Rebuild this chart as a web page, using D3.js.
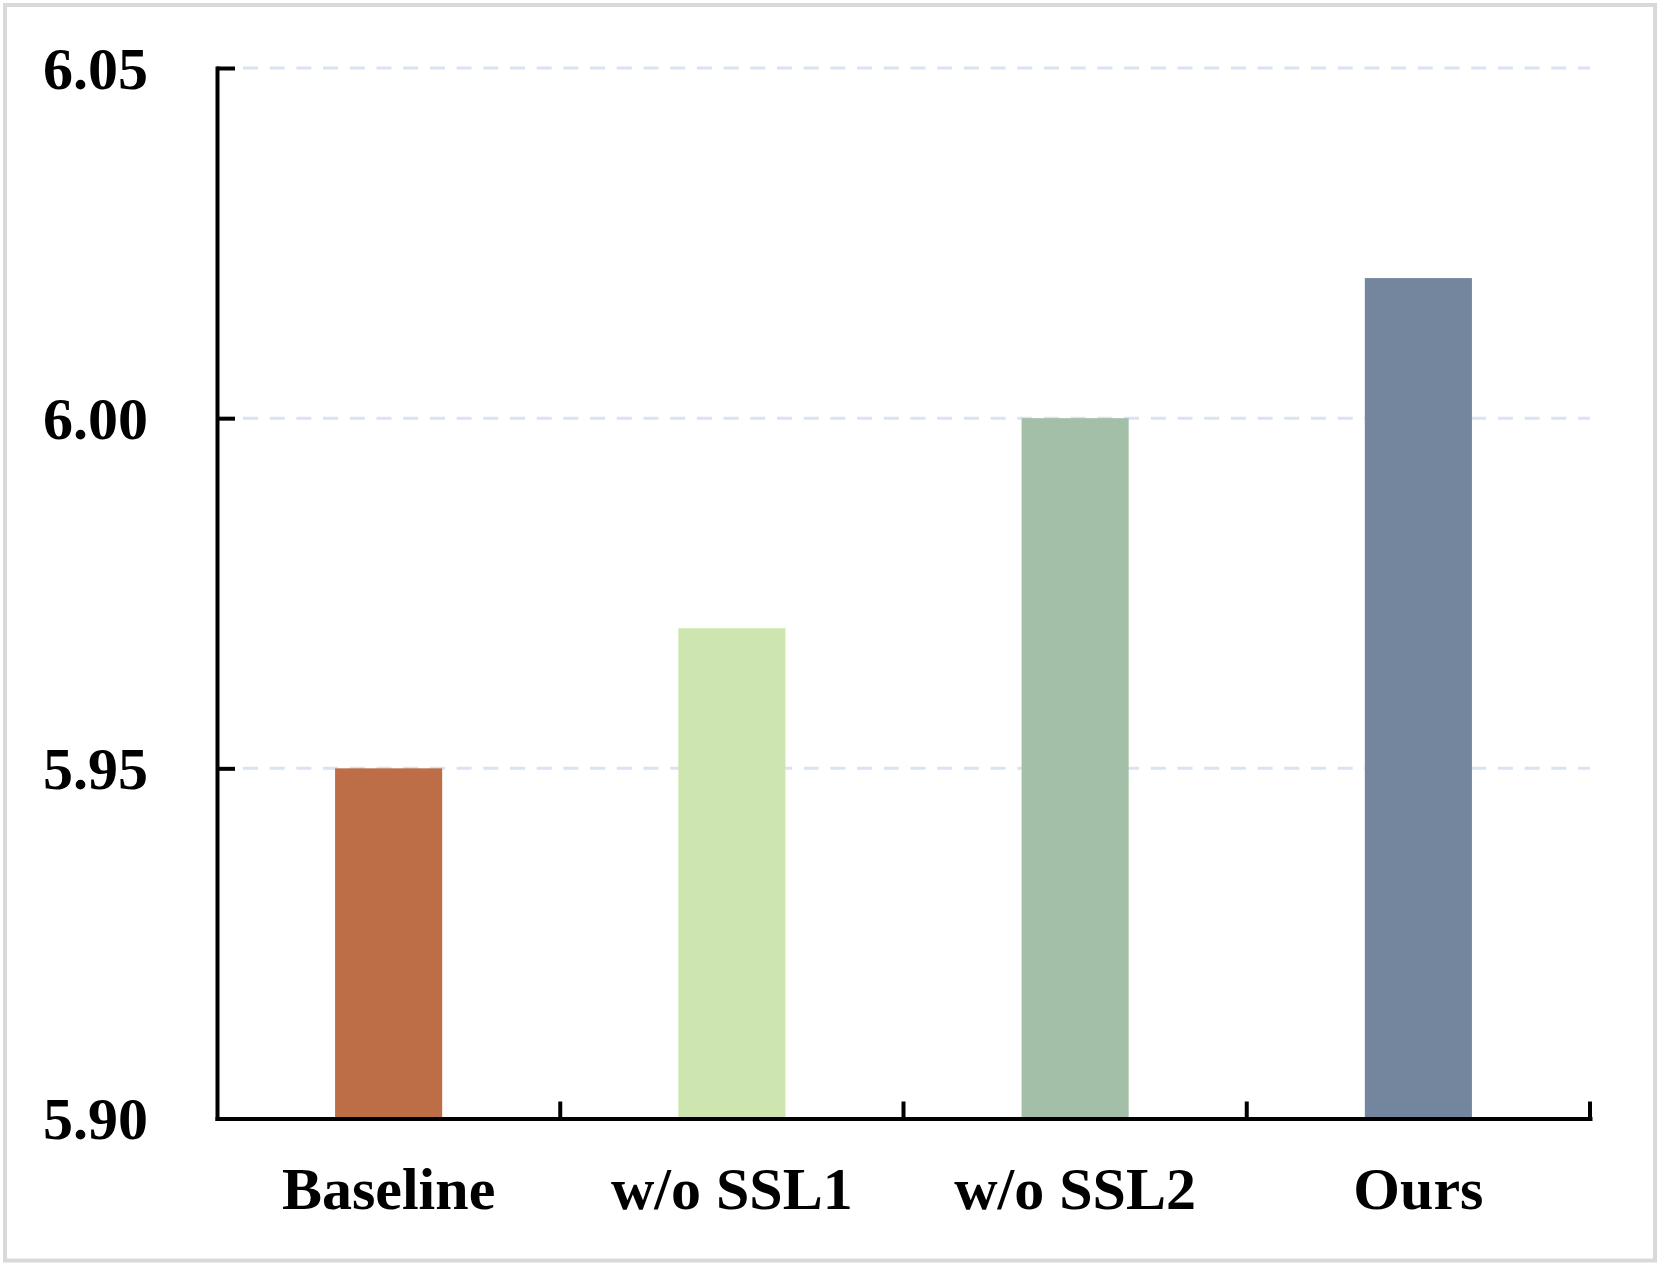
<!DOCTYPE html>
<html>
<head>
<meta charset="utf-8">
<script src="https://cdn.jsdelivr.net/npm/d3@7/dist/d3.min.js"></script>
<style>
  html, body { margin: 0; padding: 0; background: #fff; }
  svg { display: block; }
</style>
</head>
<body>
<svg id="chart" width="1660" height="1265"></svg>
<script>
const categories = ["Baseline", "w/o SSL1", "w/o SSL2", "Ours"];
const values = [5.95, 5.97, 6.00, 6.02];
const colors = ["#BD6E47", "#CDE6AF", "#A3BFA8", "#73869E"];
const yTicks = [5.90, 5.95, 6.00, 6.05];
const gridTicks = [5.95, 6.00, 6.05];

(function () {
const svg = d3.select("#chart");
const W = 1660, H = 1265;
const mLeft = 217, mRight = 1590, mTop = 68, mBottom = 1118.5;

svg.append("rect")
  .attr("x", 5).attr("y", 5)
  .attr("width", W - 10).attr("height", H - 9.5)
  .attr("fill", "#fff")
  .attr("stroke", "#d9d9d9").attr("stroke-width", 4);

const x = d3.scaleBand().domain(categories).range([mLeft, mRight]).padding(0);
const y = d3.scaleLinear().domain([5.90, 6.05]).range([mBottom, mTop]);
const barW = x.bandwidth() * 0.312;

// gridlines
svg.append("g").selectAll("line").data(gridTicks).join("line")
  .attr("x1", mLeft + 26).attr("x2", mRight)
  .attr("y1", d => y(d)).attr("y2", d => y(d))
  .attr("stroke", "#dae3f3").attr("stroke-width", 3)
  .attr("stroke-dasharray", "15,11.7");

// bars
svg.append("g").selectAll("rect").data(categories).join("rect")
  .attr("x", (d) => x(d) + x.bandwidth() / 2 - barW / 2)
  .attr("width", barW)
  .attr("y", (d, i) => y(values[i]))
  .attr("height", (d, i) => y(5.90) - y(values[i]))
  .attr("fill", (d, i) => colors[i]);

const font = "'Liberation Serif', 'Times New Roman', serif";

// y axis
const yAxis = svg.append("g")
  .attr("transform", `translate(${mLeft},0)`)
  .call(d3.axisLeft(y).tickValues(yTicks).tickFormat(d3.format(".2f"))
    .tickSizeInner(-18).tickSizeOuter(0).tickPadding(69));
yAxis.selectAll("path.domain").attr("stroke", "#000").attr("stroke-width", 4)
  .attr("stroke-linecap", "square");
yAxis.selectAll(".tick line").attr("stroke", "#000").attr("stroke-width", 4);
yAxis.selectAll(".tick text")
  .attr("fill", "#000")
  .attr("dy", "0.34em")
  .style("font-family", font).style("font-weight", "bold").style("font-size", "60px");

// x axis
const xAxis = svg.append("g")
  .attr("transform", `translate(0,${mBottom})`)
  .call(d3.axisBottom(x).tickSize(0).tickSizeOuter(0).tickPadding(48));
xAxis.selectAll("path.domain").attr("stroke", "#000").attr("stroke-width", 4)
  .attr("stroke-linecap", "square");
xAxis.selectAll(".tick text")
  .attr("fill", "#000")
  .style("font-family", font).style("font-weight", "bold").style("font-size", "60px");

// x boundary ticks (pointing up)
svg.append("g").selectAll("line").data(categories).join("line")
  .attr("x1", d => x(d) + x.bandwidth()).attr("x2", d => x(d) + x.bandwidth())
  .attr("y1", mBottom).attr("y2", mBottom - 17)
  .attr("stroke", "#000").attr("stroke-width", 4);
})();
</script>
</body>
</html>
